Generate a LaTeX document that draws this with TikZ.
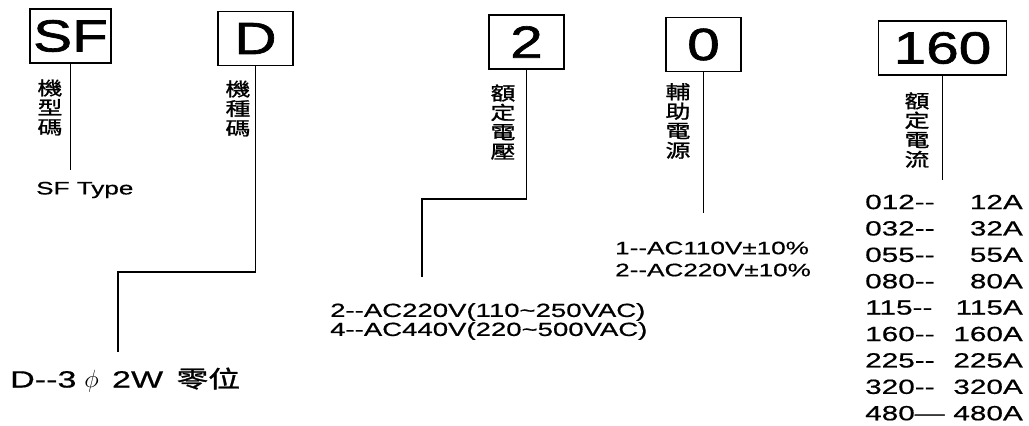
\documentclass[tikz,border=0pt]{standalone}
\usepackage{fontspec}
\setmainfont{Liberation Sans}[FakeStretch=1.45, FakeBold=0.6]
\newfontfamily\boxfont{Liberation Sans}[FakeStretch=1.3, FakeBold=1.5]
\newfontfamily\cjk{Noto Sans CJK TC}[FakeStretch=1.35, FakeBold=1.2]
\usetikzlibrary{positioning}
\newcommand\ddash{-\kern0pt-}

\tikzset{
  codebox/.style={draw, line width=1.3pt, inner sep=0pt, minimum height=54pt,
    font=\boxfont\fontsize{45}{45}\selectfont},
  vlabel/.style={align=center, inner sep=0pt, font=\cjk\fontsize{18.5}{19.5}\selectfont},
  desc/.style={anchor=west, inner sep=0pt, font=\fontsize{19}{19}\selectfont},
  lead/.style={line width=1.1pt}
}

\begin{document}
\begin{tikzpicture}[x=1pt,y=-1pt]
        % Fundo
        \fill[white] (0,0) rectangle (1029,426);
        \useasboundingbox (0,0) rectangle (1029,426);

        % Caixas do código
        \node[codebox, minimum width=81pt] (sfbox) at (70.5,36) {SF};
        \node[codebox, minimum width=75pt] (dbox) at (255.5,38.5) {D};
        \node[codebox, minimum width=75pt] (vbox) at (526.5,42) {2};
        \node[codebox, minimum width=75pt] (abox) at (703.5,44.5) {0};
        \node[codebox, minimum width=128pt] (cbox) at (942.5,48) {160};

        % Rótulos verticais
        \node[vlabel] (sflbl) at (50,107.5) {機\\型\\碼};
        \node[vlabel] (dlbl) at (238,108.5) {機\\種\\碼};
        \node[vlabel] (vlbl) at (503,122) {額\\定\\電\\壓};
        \node[vlabel] (albl) at (678,121) {輔\\助\\電\\源};
        \node[vlabel] (clbl) at (917,130) {額\\定\\電\\流};

        % Descrições
        \node[desc, font=\fontsize{18}{18}\selectfont] (sftype) at (36,190) {SF Type};
        \node[desc, font=\fontsize{23.5}{23.5}\selectfont] (dtext) at (10,380)
          {D\ddash3\,\,$\phi$\ \,2W\ \,{\cjk 零位}};
        \node[desc, align=left] (vtext) at (330,321.5)
          {2\ddash AC220V(110\textasciitilde250VAC)\\4\ddash AC440V(220\textasciitilde500VAC)};
        \node[desc, align=left, font=\fontsize{18}{22}\selectfont] (atext) at (615,259)
          {1\ddash AC110V±10\%\\2\ddash AC220V±10\%};
        \foreach \code/\amp [count=\i] in {012\ddash/12A, 032\ddash/32A, 055\ddash/55A,
            080\ddash/80A, 115\ddash/115A, 160\ddash/160A, 225\ddash/225A,
            320\ddash/320A, 480—/480A} {
          \node[desc, font=\fontsize{20.5}{20.5}\selectfont] (code\i) at (865,{202+26.4*(\i-1)}) {\code};
          \node[desc, anchor=east, font=\fontsize{20.5}{20.5}\selectfont] (amp\i) at (1023,{202+26.4*(\i-1)}) {\amp};
        }

        % Linhas de ligação
        \coordinate (sfend) at (68,170);
        \coordinate (dknee) at (118,272);
        \coordinate (dend) at (118,352);
        \coordinate (vknee) at (422,199);
        \coordinate (vend) at (422,277);
        \coordinate (aend) at (704,213);
        \coordinate (cend) at (942,180);
        \draw[lead] (sfbox.south) -- (sfbox.south |- sfend);
        \draw[lead] (dbox.south) |- (dknee) -- (dend);
        \draw[lead] (vbox.south) |- (vknee) -- (vend);
        \draw[lead] (abox.south) -- (abox.south |- aend);
        \draw[lead] (cbox.south) -- (cbox.south |- cend);
\end{tikzpicture}
\end{document}
